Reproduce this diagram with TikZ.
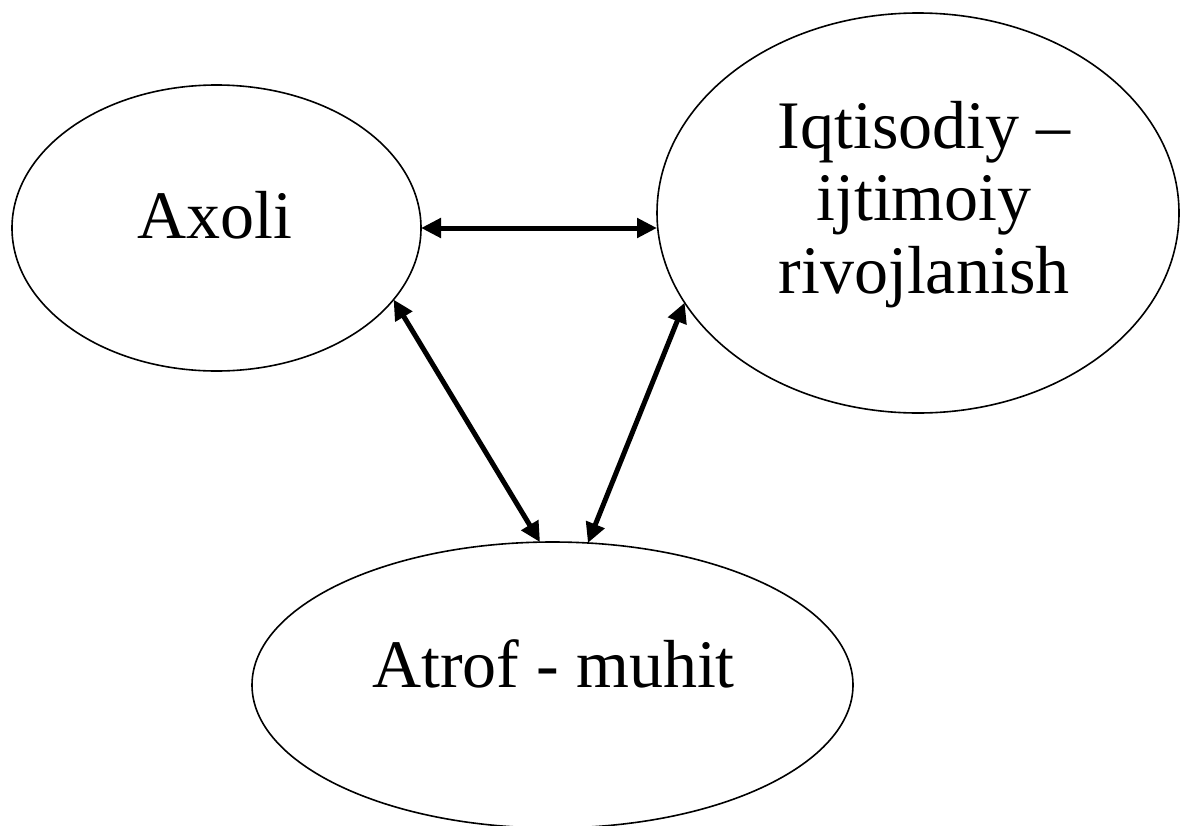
\documentclass[tikz,border=0pt]{standalone}
\usepackage{fontspec}
\setmainfont{Liberation Serif}
\usetikzlibrary{shapes.geometric,arrows.meta}
\tikzset{
  oval/.style={ellipse, draw=black, line width=1.6pt, inner sep=0pt, outer sep=0pt},
  lbl/.style={font=\fontsize{68}{72.5}\selectfont, inner sep=0pt, align=center, anchor=base},
  link/.style={line width=5pt, {Triangle[length=20pt,width=19pt]}-{Triangle[length=20pt,width=19pt]}}
}
\begin{document}
\begin{tikzpicture}[x=1pt,y=-1pt]
\useasboundingbox (0,0) rectangle (1180,825);
\fill[white] (0,0) rectangle (1180,825);
\node[oval, minimum width=409pt, minimum height=286pt] (ax) at (216.5,228) {};
\node[oval, minimum width=522pt, minimum height=400pt] (iq) at (918,213) {};
\node[oval, minimum width=601pt, minimum height=286pt] (at) at (552.5,685) {};
\node[lbl] (axt) at (215,238) {Axoli};
\node[lbl] (iqt) at (924,293) {Iqtisodiy –\\ijtimoiy\\rivojlanish};
\node[lbl] (att) at (553.5,687) {Atrof - muhit};
\draw[link] (ax.east) -- (iq.west |- ax.east);
\draw[link] (ax.-22) -- (at.95);
\draw[link] (iq.201) -- (at.76);
\end{tikzpicture}
\end{document}
